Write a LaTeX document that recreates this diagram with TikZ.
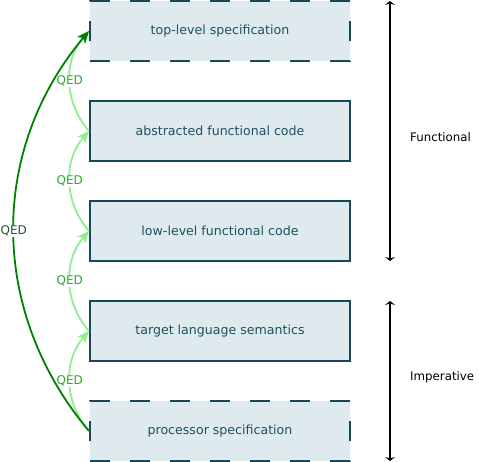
\documentclass[tikz,border=0pt]{standalone}
\usepackage{fontspec}
\setmainfont{DejaVu Sans}
\usetikzlibrary{arrows.meta}
\definecolor{boxfill}{RGB}{223,234,239}
\definecolor{boxline}{RGB}{24,72,88}
\definecolor{boxtext}{RGB}{30,80,96}
\definecolor{qedgreen}{RGB}{40,170,40}
\definecolor{lightarrow}{RGB}{144,238,144}
\definecolor{darkarrow}{RGB}{0,128,0}
\definecolor{bigqed}{RGB}{40,85,40}
\tikzset{
  stage/.style={draw=boxline, fill=boxfill, line width=2pt, minimum width=260pt,
    minimum height=60pt, inner sep=0pt, text=boxtext,
    font=\fontsize{12.6}{14}\selectfont},
  dashedstage/.style={stage, dash pattern=on 20pt off 20pt},
  qedstep/.style={draw=lightarrow, line width=1.8pt, bend left=41,
    -{Stealth[length=12pt,width=10pt,inset=3pt]}},
  qedlabel/.style={fill=white, text=qedgreen, inner sep=1pt,
    font=\fontsize{12}{14}\selectfont},
  bigqed/.style={draw=darkarrow, line width=1.8pt, bend left=40,
    -{Stealth[length=12pt,width=10pt,inset=3pt]}},
  bigqedlabel/.style={fill=white, text=bigqed, inner sep=1pt,
    font=\fontsize{12}{14}\selectfont},
  span/.style={draw=black, line width=2.2pt,
    {Stealth[length=4pt,width=10pt,inset=1.5pt]}-{Stealth[length=4pt,width=10pt,inset=1.5pt]}},
  spanlabel/.style={anchor=west, inner sep=0pt, font=\fontsize{11.8}{14}\selectfont}
}
\begin{document}
\begin{tikzpicture}[x=1pt, y=-1pt]
\useasboundingbox (0,0) rectangle (479,462);
\node[dashedstage] (b1) at (220,31) {top-level specification};
\node[stage] (b2) at (220,131) {abstracted functional code};
\node[stage] (b3) at (220,231) {low-level functional code};
\node[stage] (b4) at (220,331) {target language semantics};
\node[dashedstage] (b5) at (220,431) {processor specification};

\draw[qedstep] (b2.west) to node[qedlabel] (q1) {QED} (b1.west);
\draw[qedstep] (b3.west) to node[qedlabel] (q2) {QED} (b2.west);
\draw[qedstep] (b4.west) to node[qedlabel] (q3) {QED} (b3.west);
\draw[qedstep] (b5.west) to node[qedlabel] (q4) {QED} (b4.west);
\draw[bigqed] (b5.west) to node[bigqedlabel] (q0) {QED} (b1.west);

\coordinate (f1) at (390,1);
\coordinate (f2) at (390,261);
\coordinate (i1) at (390,301);
\coordinate (i2) at (390,461);
\draw[span] (f1) -- (f2);
\draw[span] (i1) -- (i2);
\node[spanlabel] (fl) at (410,137) {Functional};
\node[spanlabel] (il) at (410,377) {Imperative};
\end{tikzpicture}
\end{document}
